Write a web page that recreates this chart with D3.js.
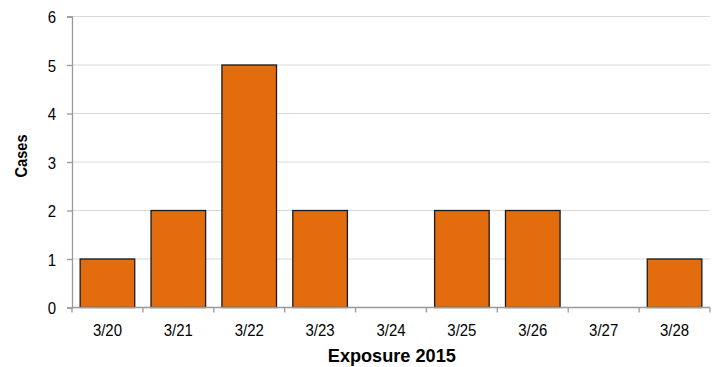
<!DOCTYPE html>
<html>
<head>
<meta charset="utf-8">
<script src="https://cdn.jsdelivr.net/npm/d3@7/dist/d3.min.js"></script>
<style>
  html, body { margin: 0; padding: 0; background: #fff; }
  svg { display: block; font-family: "Liberation Sans", Arial, sans-serif; }
</style>
</head>
<body>
<svg id="chart" width="715" height="367"></svg>
<script>
// Exposure dates and case counts
const categories = ["3/20", "3/21", "3/22", "3/23", "3/24", "3/25", "3/26", "3/27", "3/28"];
const cases = [1, 2, 5, 2, 0, 2, 2, 0, 1];
const yTicks = [0, 1, 2, 3, 4, 5, 6];

const svg = d3.select("#chart");
const plot = { left: 72, right: 710, top: 16.5, bottom: 307.5 };

const x = d3.scaleBand()
  .domain(categories)
  .range([plot.left, plot.right])
  .paddingInner(0.23)
  .paddingOuter(0.115);

const y = d3.scaleLinear()
  .domain([0, 6])
  .range([plot.bottom, plot.top]);

// slightly condensed lettering
function condense(sel, k) {
  sel.each(function () {
    const w = this.getComputedTextLength();
    d3.select(this).attr("textLength", w * k).attr("lengthAdjust", "spacingAndGlyphs");
  });
}

// horizontal gridlines
svg.append("g")
  .selectAll("line")
  .data(yTicks.filter(d => d > 0))
  .join("line")
  .attr("x1", plot.left)
  .attr("x2", plot.right)
  .attr("y1", d => y(d))
  .attr("y2", d => y(d))
  .attr("stroke", "#d9d9d9")
  .attr("stroke-width", 1.2);

// bars
svg.append("g")
  .selectAll("rect")
  .data(cases)
  .join("rect")
  .attr("x", (d, i) => x(categories[i]))
  .attr("width", x.bandwidth())
  .attr("y", d => y(d))
  .attr("height", d => y(0) - y(d))
  .attr("fill", "#E36C0C")
  .attr("stroke", d => d > 0 ? "#1a1a1a" : "none")
  .attr("stroke-width", 1.3);

// y axis
const yAxis = d3.axisLeft(y).tickValues(yTicks).tickSize(5).tickPadding(11).tickFormat(d3.format("d"));
const gy = svg.append("g").attr("transform", `translate(${plot.left},0)`).call(yAxis);
gy.select(".domain").attr("stroke", "#999").attr("stroke-width", 1.3);
gy.selectAll(".tick line").attr("stroke", "#999").attr("stroke-width", 1.3);
gy.selectAll(".tick text")
  .attr("font-size", 17)
  .attr("fill", "#000")
  .attr("dy", "0.36em")
  .attr("font-family", "Liberation Sans, Arial, sans-serif")
  .call(condense, 0.88);

// x axis: ticks at category boundaries
const n = categories.length;
const boundaries = d3.range(n + 1).map(i => plot.left + i * (plot.right - plot.left) / n);
const gx = svg.append("g");
gx.append("line")
  .attr("x1", plot.left).attr("x2", plot.right)
  .attr("y1", y(0)).attr("y2", y(0))
  .attr("stroke", "#999").attr("stroke-width", 1.3);
gx.selectAll("line.tk")
  .data(boundaries)
  .join("line")
  .attr("class", "tk")
  .attr("x1", d => d).attr("x2", d => d)
  .attr("y1", y(0)).attr("y2", y(0) + 5)
  .attr("stroke", "#999").attr("stroke-width", 1.3);
gx.selectAll("text")
  .data(categories)
  .join("text")
  .attr("x", d => x(d) + x.bandwidth() / 2)
  .attr("y", 335.5)
  .attr("text-anchor", "middle")
  .attr("font-size", 17)
  .attr("fill", "#000")
  .text(d => d)
  .call(condense, 0.88);

// axis titles
svg.append("text")
  .attr("x", 391.8)
  .attr("y", 361.5)
  .attr("text-anchor", "middle")
  .attr("font-size", 17.5)
  .attr("font-weight", "bold")
  .attr("textLength", 128)
  .attr("lengthAdjust", "spacingAndGlyphs")
  .text("Exposure 2015");

svg.append("text")
  .attr("transform", "translate(26.5,156) rotate(-90)")
  .attr("text-anchor", "middle")
  .attr("font-size", 16.5)
  .attr("font-weight", "bold")
  .attr("textLength", 43)
  .attr("lengthAdjust", "spacingAndGlyphs")
  .text("Cases");
</script>
</body>
</html>
